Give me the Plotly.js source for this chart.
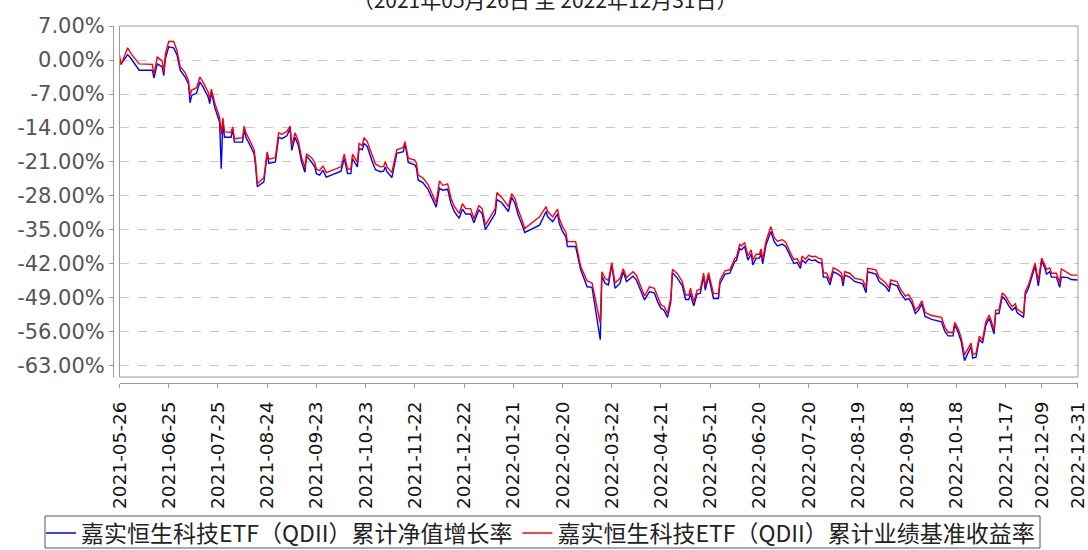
<!DOCTYPE html>
<html>
<head>
<meta charset="utf-8">
<script src="https://cdn.plot.ly/plotly-3.0.1.min.js"></script>
<style>html,body{margin:0;padding:0;background:#fff;}#chart{width:1088px;height:550px;}</style>
</head>
<body>
<div id="chart"></div>
<script>
const titleText = "（2021年05月26日 至 2022年12月31日）";
const seriesNames = ["嘉实恒生科技ETF（QDII）累计净值增长率", "嘉实恒生科技ETF（QDII）累计业绩基准收益率"];

const dates = [
"2021-05-26","2021-05-27","2021-05-31","2021-06-02","2021-06-07","2021-06-15","2021-06-16","2021-06-18","2021-06-21","2021-06-22",
"2021-06-23","2021-06-25","2021-06-28","2021-06-29","2021-06-30","2021-07-02","2021-07-05","2021-07-07","2021-07-08","2021-07-09",
"2021-07-12","2021-07-14","2021-07-16","2021-07-19","2021-07-20","2021-07-21","2021-07-23","2021-07-26","2021-07-27","2021-07-28",
"2021-07-29","2021-08-02","2021-08-03","2021-08-04","2021-08-09","2021-08-10","2021-08-11","2021-08-13","2021-08-16","2021-08-17",
"2021-08-18","2021-08-22","2021-08-24","2021-08-25","2021-08-29","2021-08-31","2021-09-02","2021-09-05","2021-09-07","2021-09-08",
"2021-09-10","2021-09-12","2021-09-14","2021-09-16","2021-09-17","2021-09-20","2021-09-22","2021-09-23","2021-09-25","2021-09-27",
"2021-09-29","2021-10-08","2021-10-10","2021-10-12","2021-10-14","2021-10-15","2021-10-18","2021-10-19","2021-10-21","2021-10-22",
"2021-10-24","2021-10-27","2021-10-29","2021-11-01","2021-11-03","2021-11-04","2021-11-05","2021-11-08","2021-11-11","2021-11-15",
"2021-11-16","2021-11-18","2021-11-22","2021-11-23","2021-11-24","2021-11-27","2021-11-29","2021-11-30","2021-12-05","2021-12-07",
"2021-12-09","2021-12-12","2021-12-14","2021-12-16","2021-12-19","2021-12-21","2021-12-23","2021-12-26","2021-12-28","2021-12-31",
"2022-01-02","2022-01-04","2022-01-07","2022-01-10","2022-01-11","2022-01-14","2022-01-18","2022-01-20","2022-01-22","2022-01-24",
"2022-01-26","2022-01-28","2022-02-06","2022-02-10","2022-02-11","2022-02-14","2022-02-17","2022-02-18","2022-02-20","2022-02-22",
"2022-02-23","2022-02-28","2022-03-03","2022-03-05","2022-03-07","2022-03-10","2022-03-15","2022-03-16","2022-03-18","2022-03-20",
"2022-03-22","2022-03-24","2022-03-27","2022-03-29","2022-03-31","2022-04-04","2022-04-06","2022-04-11","2022-04-14","2022-04-17",
"2022-04-19","2022-04-21","2022-04-23","2022-04-25","2022-04-27","2022-04-28","2022-05-01","2022-05-04","2022-05-06","2022-05-08",
"2022-05-09","2022-05-10","2022-05-11","2022-05-13","2022-05-15","2022-05-17","2022-05-18","2022-05-20","2022-05-21","2022-05-23",
"2022-05-26","2022-05-27","2022-05-30","2022-06-02","2022-06-05","2022-06-06","2022-06-08","2022-06-09","2022-06-11","2022-06-13",
"2022-06-15","2022-06-16","2022-06-18","2022-06-20","2022-06-21","2022-06-22","2022-06-24","2022-06-27","2022-06-29","2022-07-01",
"2022-07-04","2022-07-06","2022-07-09","2022-07-11","2022-07-13","2022-07-15","2022-07-16","2022-07-18","2022-07-20","2022-07-22",
"2022-07-24","2022-07-26","2022-07-28","2022-07-29","2022-07-31","2022-08-02","2022-08-04","2022-08-07","2022-08-09","2022-08-10",
"2022-08-11","2022-08-14","2022-08-17","2022-08-22","2022-08-24","2022-08-25","2022-08-30","2022-09-01","2022-09-05","2022-09-07",
"2022-09-08","2022-09-12","2022-09-14","2022-09-17","2022-09-19","2022-09-21","2022-09-23","2022-09-25","2022-09-27","2022-09-29",
"2022-10-03","2022-10-09","2022-10-11","2022-10-13","2022-10-16","2022-10-17","2022-10-19","2022-10-21","2022-10-23","2022-10-25",
"2022-10-27","2022-10-28","2022-10-30","2022-11-01","2022-11-03","2022-11-05","2022-11-07","2022-11-08","2022-11-10","2022-11-11",
"2022-11-13","2022-11-15","2022-11-17","2022-11-19","2022-11-21","2022-11-23","2022-11-24","2022-11-28","2022-11-29","2022-12-01",
"2022-12-03","2022-12-05","2022-12-07","2022-12-09","2022-12-11","2022-12-12","2022-12-14","2022-12-15","2022-12-18","2022-12-20",
"2022-12-21","2022-12-25","2022-12-27","2022-12-31"
];

const navGrowth = [
0.2,-0.8,1.1,0.3,-2.1,-2.1,-3.7,-0.8,-1.4,-3.2,
0.3,2.7,2.5,1.6,1.1,-2.1,-3.5,-4.9,-8.8,-7.3,
-6.8,-4.5,-5.6,-7.6,-9.0,-6.6,-9.7,-12.8,-22.4,-12.6,
-15.9,-15.9,-14.3,-16.9,-16.9,-14.1,-15.9,-17.2,-19.3,-22.0,
-26.1,-25.1,-19.3,-21.3,-21.0,-15.9,-16.2,-15.6,-14.1,-18.6,
-15.9,-17.6,-21.0,-23.1,-19.8,-21.0,-22.0,-23.4,-23.7,-22.7,
-24.1,-22.9,-20.3,-23.4,-23.4,-20.3,-22.0,-18.2,-18.5,-17.2,
-17.8,-20.9,-22.6,-23.0,-22.9,-22.0,-23.0,-24.2,-19.2,-18.9,
-17.2,-21.1,-21.6,-22.3,-24.7,-25.3,-26.2,-26.6,-30.3,-26.4,
-26.8,-26.6,-29.5,-31.2,-32.6,-30.7,-31.7,-31.7,-33.5,-30.9,
-31.6,-34.9,-33.3,-31.6,-28.7,-29.4,-31.2,-28.3,-29.5,-31.9,
-33.6,-35.5,-34.0,-31.2,-32.3,-33.3,-31.7,-33.6,-35.3,-36.4,
-38.4,-38.4,-43.1,-44.9,-46.7,-46.8,-57.6,-44.5,-46.0,-46.3,
-42.2,-47.0,-46.0,-43.6,-45.6,-44.5,-45.3,-49.4,-47.7,-48.0,
-49.8,-51.1,-51.6,-53.0,-49.8,-43.8,-44.9,-46.5,-49.3,-49.3,
-48.0,-49.6,-50.6,-48.2,-48.0,-44.5,-47.4,-44.5,-46.0,-49.1,
-49.1,-46.0,-44.1,-43.9,-41.5,-41.3,-38.8,-39.1,-38.4,-41.2,
-39.9,-42.2,-40.8,-40.8,-39.8,-42.0,-38.1,-35.3,-37.4,-38.3,
-37.9,-38.4,-40.5,-41.9,-41.7,-42.9,-41.2,-41.8,-41.0,-41.3,
-41.2,-41.7,-41.8,-44.7,-44.7,-46.3,-43.6,-44.1,-44.7,-46.5,
-44.3,-44.7,-45.6,-46.1,-47.9,-43.6,-44.1,-45.6,-46.7,-47.7,
-46.0,-46.5,-48.0,-49.4,-49.1,-50.2,-52.2,-51.5,-50.2,-52.8,
-53.4,-53.9,-55.9,-56.8,-56.8,-54.6,-55.9,-58.0,-61.9,-60.4,
-59.0,-61.4,-61.2,-57.5,-58.3,-54.6,-53.2,-54.1,-56.4,-52.2,
-52.2,-48.7,-49.4,-50.6,-51.5,-50.9,-52.0,-53.0,-48.4,-47.0,
-44.6,-42.4,-46.5,-41.3,-42.9,-44.1,-43.6,-44.7,-44.7,-46.8,
-44.7,-44.8,-45.2,-45.3
];

const benchmark = [
0.9,-1.0,2.5,1.3,-0.8,-0.9,-2.9,0.6,-0.2,-2.5,
1.3,3.8,3.8,2.7,2.0,-1.4,-2.6,-4.2,-7.3,-6.2,
-5.7,-3.5,-4.6,-6.6,-8.0,-6.0,-8.8,-11.8,-15.3,-11.9,
-14.8,-14.9,-13.8,-16.2,-16.0,-13.6,-15.0,-16.3,-18.4,-21.0,
-25.5,-24.2,-18.9,-20.4,-20.1,-15.0,-15.3,-14.7,-13.6,-17.6,
-15.0,-16.7,-20.1,-22.2,-19.3,-20.1,-21.1,-22.5,-22.8,-21.8,
-23.2,-22.0,-19.4,-22.5,-22.4,-19.4,-21.1,-17.2,-17.6,-16.0,
-16.8,-19.6,-21.4,-22.0,-21.9,-20.9,-22.0,-23.2,-18.5,-18.0,
-16.8,-20.2,-20.6,-21.3,-23.7,-24.3,-25.2,-25.6,-29.4,-24.9,
-25.8,-25.5,-28.4,-30.1,-31.6,-29.6,-30.6,-30.6,-32.7,-30.0,
-30.6,-34.0,-32.3,-30.6,-27.3,-28.3,-30.2,-27.5,-28.5,-30.9,
-32.6,-34.7,-32.3,-30.2,-31.2,-32.3,-30.7,-32.6,-34.3,-35.4,
-37.4,-37.4,-42.4,-44.0,-45.5,-45.9,-54.2,-43.6,-45.0,-45.4,
-41.7,-45.9,-45.0,-43.0,-44.8,-43.6,-44.3,-48.6,-46.7,-47.0,
-48.8,-50.4,-50.8,-52.2,-49.0,-43.1,-44.0,-45.6,-48.4,-48.4,
-47.0,-48.8,-49.8,-47.4,-47.2,-43.9,-46.6,-43.8,-45.2,-48.1,
-48.1,-45.3,-43.4,-43.2,-40.8,-40.6,-37.9,-38.3,-37.6,-40.3,
-39.1,-41.2,-40.0,-40.0,-38.9,-41.1,-37.3,-34.3,-36.6,-37.3,
-37.0,-37.5,-39.8,-41.1,-40.9,-42.2,-40.4,-41.0,-40.2,-40.5,
-40.4,-40.8,-41.0,-43.8,-43.9,-45.5,-42.8,-43.3,-43.9,-45.7,
-43.6,-43.9,-44.9,-45.3,-46.9,-42.9,-43.2,-44.8,-45.9,-46.9,
-45.3,-45.7,-47.2,-48.6,-48.3,-49.4,-51.5,-50.8,-49.6,-52.0,
-52.6,-53.0,-55.0,-56.1,-56.1,-54.0,-55.2,-57.2,-60.7,-59.6,
-58.3,-60.6,-60.4,-56.9,-57.6,-53.9,-52.5,-53.4,-55.6,-51.5,
-51.5,-48.0,-48.6,-49.8,-50.8,-50.2,-51.3,-52.2,-47.7,-46.3,
-43.9,-41.8,-45.5,-40.8,-42.2,-43.1,-42.8,-43.9,-43.9,-45.8,
-43.0,-43.8,-44.3,-44.3
];

const xTickDates = ["2021-05-26","2021-06-25","2021-07-25","2021-08-24","2021-09-23","2021-10-23","2021-11-22","2021-12-22","2022-01-21","2022-02-20","2022-03-22","2022-04-21","2022-05-21","2022-06-20","2022-07-20","2022-08-19","2022-09-18","2022-10-18","2022-11-17","2022-12-09","2022-12-31"];
const xTickLabels = xTickDates.slice();
const yTickValues = [7, 0, -7, -14, -21, -28, -35, -42, -49, -56, -63];
const yTickLabels = ["7.00%","0.00%","-7.00%","-14.00%","-21.00%","-28.00%","-35.00%","-42.00%","-49.00%","-56.00%","-63.00%"];

const W = 1088, H = 550;
const mL = 113, mR = 10, mT = 26, mB = 167;
const plotW = W - mL - mR, plotH = H - mT - mB;

const traces = [
  {x: dates, y: navGrowth, type: 'scatter', mode: 'lines', name: seriesNames[0],
   line: {color: '#0000ff', width: 1.4}},
  {x: dates, y: benchmark, type: 'scatter', mode: 'lines', name: seriesNames[1],
   line: {color: '#ff0000', width: 1.4}}
];

// legend frame (pixels) and legend text block centre
const boxL = 45, boxR = 1040, boxT = 516, boxB = 548;
const legendLeftPx = 41, legendMidPx = 533;
const pxToPaperX = px => (px - mL) / plotW;
const pxToPaperY = py => (H - mB - py) / plotH;

const layout = {
  width: W, height: H,
  margin: {l: mL, r: mR, t: mT, b: mB, pad: 0, autoexpand: false},
  paper_bgcolor: '#ffffff', plot_bgcolor: '#ffffff',
  font: {family: 'DejaVu Sans, sans-serif', color: '#333'},
  title: {text: titleText, font: {family: 'Noto Sans CJK SC', size: 21, color: '#222'},
          xref: 'container', x: 0.501, xanchor: 'center', yref: 'container', y: 0.985, yanchor: 'bottom'},
  showlegend: true,
  legend: {orientation: 'h', xref: 'paper', yref: 'paper',
           x: pxToPaperX(legendLeftPx), xanchor: 'left',
           y: pxToPaperY(legendMidPx), yanchor: 'middle',
           borderwidth: 0, font: {family: 'Noto Sans CJK SC', size: 23, color: '#222'},
           itemwidth: 30, tracegroupgap: 0, bgcolor: 'rgba(0,0,0,0)'},
  xaxis: {type: 'date', range: ['2021-05-26', '2022-12-31 04:00'], domain: [6.5 / plotW, 1],
          anchor: 'free', position: 0, showline: true, linecolor: '#999', linewidth: 1,
          ticks: 'outside', ticklen: 4, tickcolor: '#999', tickmode: 'array', tickvals: xTickDates, ticktext: xTickLabels,
          tickangle: -90, ticklabelstandoff: 6, tickfont: {family: 'DejaVu Sans', size: 18.5, color: '#111'},
          showgrid: false, zeroline: false, fixedrange: true},
  yaxis: {range: [-65.27, 7], domain: [6 / plotH, 1], anchor: 'free', position: 0,
          showline: true, linecolor: '#999', linewidth: 1, ticks: 'outside', ticklen: 4, tickcolor: '#999',
          tickvals: yTickValues, ticktext: yTickLabels, tickfont: {family: 'DejaVu Sans', size: 21, color: '#555'},
          showgrid: true, gridcolor: '#c8c8c8', griddash: 'dash', gridwidth: 1, zeroline: false, fixedrange: true},
  shapes: [
    {type: 'rect', xref: 'x domain', yref: 'y domain', x0: 0, x1: 1, y0: 0, y1: 1,
     line: {color: '#9a9a9a', width: 1}, layer: 'above'},
    {type: 'rect', xref: 'paper', yref: 'paper', x0: pxToPaperX(boxL), x1: pxToPaperX(boxR),
     y0: pxToPaperY(boxB), y1: pxToPaperY(boxT), line: {color: '#555', width: 1}, fillcolor: 'rgba(0,0,0,0)', layer: 'below'}
  ]
};

Plotly.newPlot('chart', traces, layout, {displayModeBar: false, staticPlot: true});
</script>
</body>
</html>
